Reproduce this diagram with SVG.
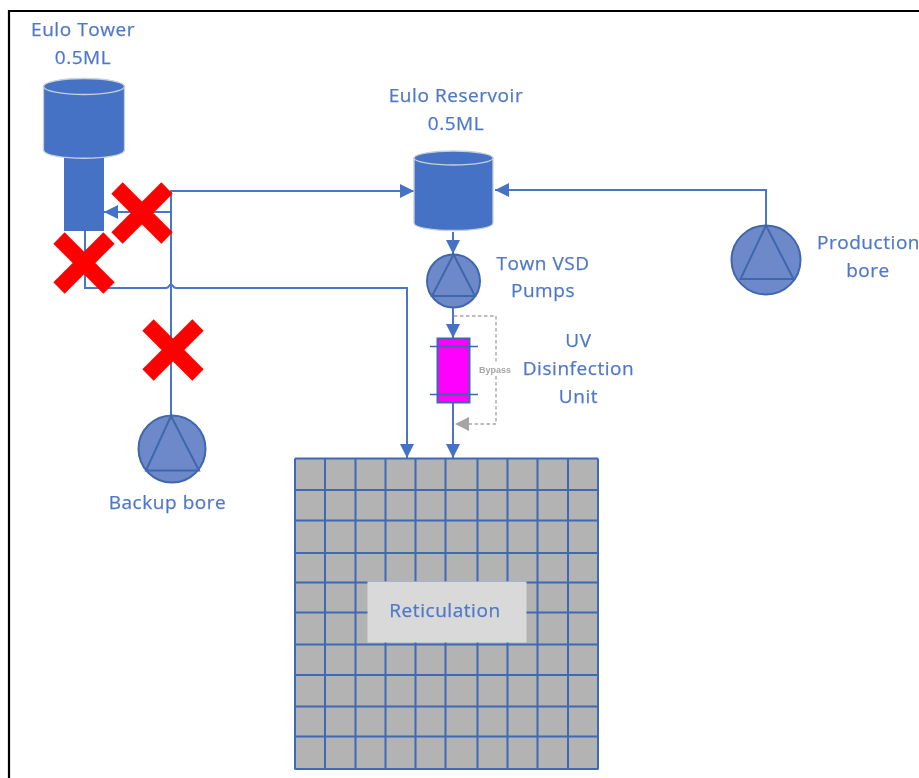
<svg xmlns="http://www.w3.org/2000/svg" width="919" height="778" viewBox="0 0 919 778">
<defs>
<style>
.t{font-family:"Open Sans","Noto Sans","Liberation Sans",sans-serif;font-size:19px;letter-spacing:.55px;fill:#4f78c8;stroke:#4f78c8;stroke-width:.25;text-anchor:middle}
.c{fill:none;stroke:#4a76c6;stroke-width:2}
.tank{fill:#4472c4}
.rim{fill:#4472c4;stroke:#c9cfd8;stroke-width:1.3}
.p{fill:#6e89c9;stroke:#3f66ac;stroke-width:2}
.x{stroke:#ff0000;stroke-width:16;fill:none}
.g{stroke:#3f69b3;stroke-width:2;fill:none}
</style>
<marker id="a" markerUnits="userSpaceOnUse" markerWidth="15" markerHeight="15" refX="14" refY="7.500" orient="auto"><path d="M0 .5L14 7.500L0 14.500Z" fill="#4472c4"/></marker>
<marker id="b" markerUnits="userSpaceOnUse" markerWidth="15" markerHeight="15" refX="14" refY="7.500" orient="auto"><path d="M0 .5L14 7.500L0 14.500Z" fill="#a6a6a6"/></marker>
<filter id="s" x="-5%" y="-5%" width="110%" height="110%"><feGaussianBlur stdDeviation="0.45"/></filter>
</defs>
<rect width="919" height="778" fill="#fff"/>
<path id="frame" d="M9 778V11H919" fill="none" stroke="#000" stroke-width="2.2"/>
<g filter="url(#s)">
<g id="connectors">
<path class="c" d="M171 415V191H414" marker-end="url(#a)"/>
<path class="c" d="M171 212H104" marker-end="url(#a)"/>
<path class="c" d="M766 226V190H495" marker-end="url(#a)"/>
<path class="c" d="M85 231V288H166Q168 288 169 286Q171 283 173 286Q174 288 176 288H407V458" marker-end="url(#a)"/>
<path class="c" d="M453 232V254" marker-end="url(#a)"/>
<path class="c" d="M453 308V338" marker-end="url(#a)"/>
<path class="c" d="M453 403V458" marker-end="url(#a)"/>
<path d="M454 316H496V424H455" fill="none" stroke="#a6a6a6" stroke-width="1.4" stroke-dasharray="3.5 2.5" marker-end="url(#b)"/>
</g>
<g id="eulo-tower">
<rect class="tank" x="64" y="156" width="40" height="75"/>
<path class="rim" d="M43.500 86V150C43.500 161 124.500 161 124.500 150V86Z"/>
<ellipse class="rim" cx="84" cy="86.500" rx="40.500" ry="8"/>
<text class="t" x="83" y="36">Eulo Tower</text>
<text class="t" x="83" y="64">0.5ML</text>
</g>
<g id="eulo-reservoir">
<path class="rim" d="M414 158V223C414 233 493 233 493 223V158Z"/>
<ellipse class="rim" cx="453.500" cy="158" rx="39.500" ry="7"/>
<text class="t" x="456" y="102">Eulo Reservoir</text>
<text class="t" x="456" y="130">0.5ML</text>
</g>
<g id="town-pumps">
<circle class="p" cx="453.500" cy="281" r="26.500"/>
<path class="p" d="M453.500 254.500L432 296H475Z"/>
<text class="t" x="543" y="270">Town VSD</text>
<text class="t" x="543" y="297">Pumps</text>
</g>
<g id="uv-unit">
<rect x="437.500" y="338.500" width="32" height="64" fill="#ff00ff" stroke="#3f66ac" stroke-width="2"/>
<path d="M430 346.500H478M430 394.500H478" stroke="#3f66ac" stroke-width="1.6"/>
<text class="t" x="578.500" y="347">UV</text>
<text class="t" x="578.500" y="375">Disinfection</text>
<text class="t" x="578.500" y="403">Unit</text>
</g>
<g id="bypass-label">
<rect x="479" y="362" width="33" height="14" fill="#fff"/>
<text x="495" y="372.500" font-family="Liberation Sans, sans-serif" font-size="9" font-weight="bold" fill="#a6a6a6" text-anchor="middle">Bypass</text>
</g>
<g id="production-bore">
<circle class="p" cx="766" cy="260" r="34.500"/>
<path class="p" d="M766 225.500L740.500 279H793.500Z"/>
<text class="t" x="868.500" y="249">Production</text>
<text class="t" x="868" y="277">bore</text>
</g>
<g id="backup-bore">
<circle class="p" cx="172" cy="449" r="33.500"/>
<path class="p" d="M171 416L146 470.500H199Z"/>
<text class="t" x="167.500" y="509">Backup bore</text>
</g>
<g id="reticulation">
<rect x="295" y="458" width="303" height="311" fill="#b3b3b3"/>
<path class="g" d="M295 458.500V769.500M325 458.500V769.500M355.500 458.500V769.500M385.500 458.500V769.500M415.500 458.500V769.500M445.500 458.500V769.500M477.500 458.500V769.500M507.500 458.500V769.500M537.500 458.500V769.500M568 458.500V769.500M598 458.500V769.500"/>
<path class="g" d="M295 458.500H598M295 490H598M295 520.500H598M295 553H598M295 582.500H598M295 612.500H598M295 644.500H598M295 675H598M295 706.500H598M295 736.500H598M295 769H598"/>
<rect x="367.500" y="581.500" width="159" height="61" fill="#d9d9d9"/>
<text class="t" x="445" y="617">Reticulation</text>
</g>
<g id="crosses">
<path class="x" d="M117 188L167 238M167 188L117 238"/>
<path class="x" d="M59 238L109 288M109 238L59 288"/>
<path class="x" d="M148 325L198 375M198 325L148 375"/>
</g>
</g>
</svg>
